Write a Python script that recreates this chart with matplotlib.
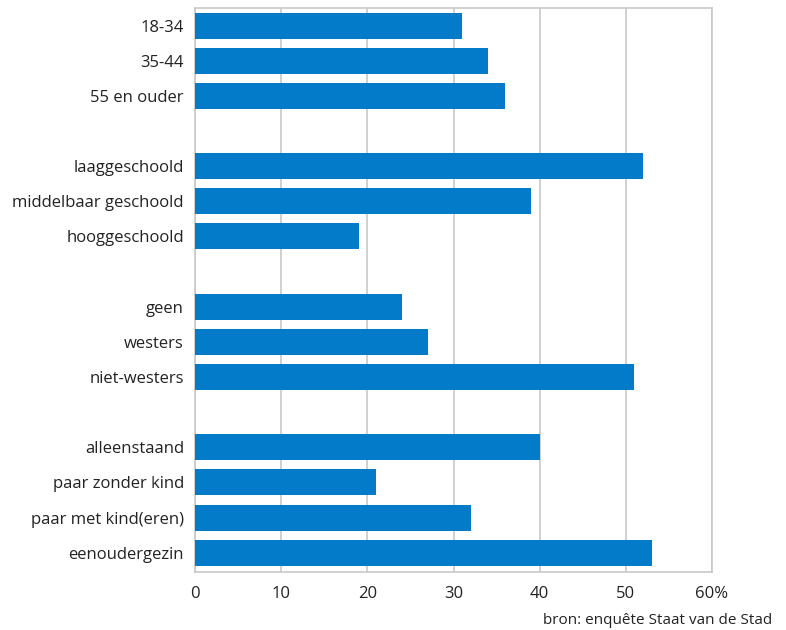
import matplotlib
matplotlib.use("Agg")
import matplotlib.pyplot as plt
import numpy as np

plt.rcParams["font.family"] = ["Open Sans", "DejaVu Sans"]

# groups separated by an empty row
groups = [
    ["18-34", "35-44", "55 en ouder"],
    ["laaggeschoold", "middelbaar geschoold", "hooggeschoold"],
    ["geen", "westers", "niet-westers"],
    ["alleenstaand", "paar zonder kind", "paar met kind(eren)", "eenoudergezin"],
]
values = [
    [31, 34, 36],
    [52, 39, 19],
    [24, 27, 51],
    [40, 21, 32, 53],
]
xticks = [0, 10, 20, 30, 40, 50, 60]
xticklabels = ["0", "10", "20", "30", "40", "50", "60%"]

BLUE, GRID, INK = "#037bc8", "#c8c8c8", "#222222"

labels, vals, pos = [], [], []
p = 0
for g, v in zip(groups, values):
    for lab, val in zip(g, v):
        labels.append(lab)
        vals.append(val)
        pos.append(p)
        p += 1
    p += 1  # blank row between groups

fig = plt.figure(figsize=(7.86, 6.30), dpi=100)
ax = fig.add_axes([195 / 786, 1 - 572 / 630, (712 - 195) / 786, (572 - 8) / 630])
ax.barh(pos, vals, height=0.74, color=BLUE, zorder=3)
ax.set_xlim(0, 60)
ax.set_ylim(pos[-1] + 0.55, -0.5)
ax.set_xticks(xticks)
ax.set_xticklabels(xticklabels, fontsize=12, color=INK)
ax.set_yticks(pos)
ax.set_yticklabels(labels, fontsize=12, color=INK)
ax.tick_params(length=0)
ax.tick_params(axis="x", pad=10)
ax.tick_params(axis="y", pad=8)
ax.grid(axis="x", color=GRID, lw=1.2, zorder=0)
for s in ax.spines.values():
    s.set_color(GRID)
    s.set_linewidth(1.2)

fig.text(772 / 786, 1 - 621 / 630, "bron: enquête Staat van de Stad",
         fontsize=11, color=INK, ha="right", va="center")

fig.savefig("out.png", dpi=100)
